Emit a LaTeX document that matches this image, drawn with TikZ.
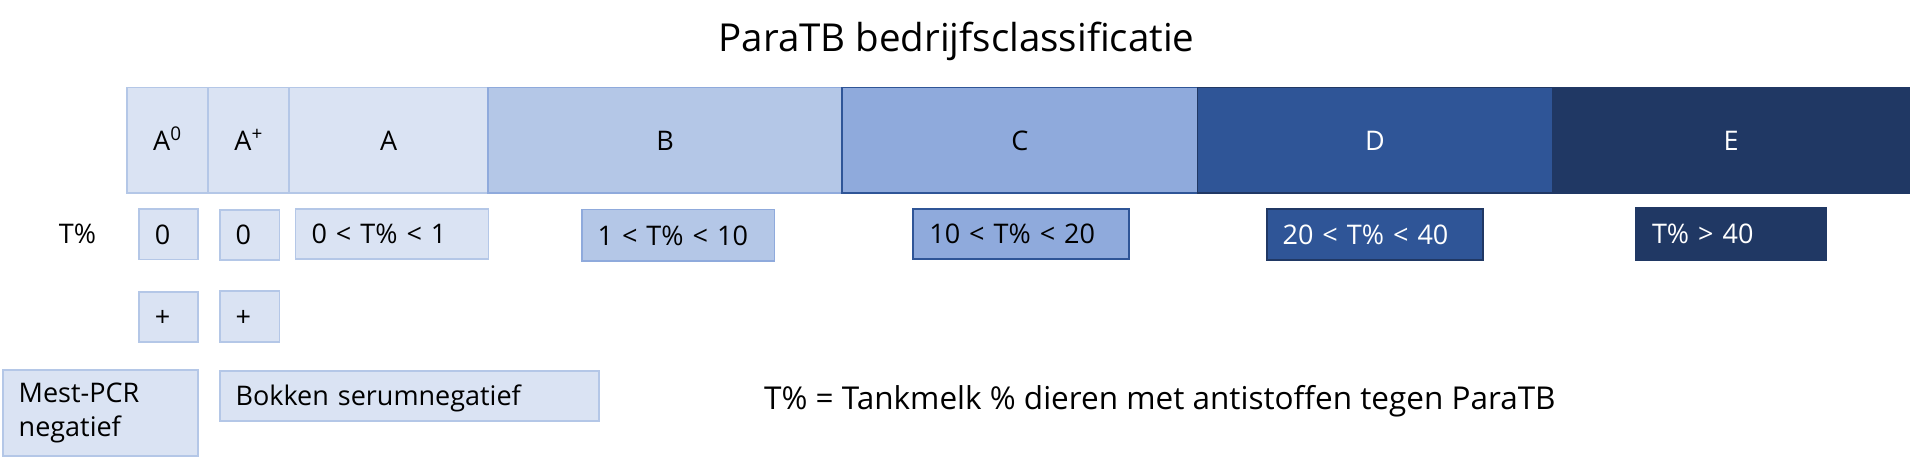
\documentclass[tikz,border=0pt]{standalone}
\usepackage{fontspec}
\setmainfont{Open Sans}
\definecolor{fA}{HTML}{DAE3F3}
\definecolor{fB}{HTML}{B4C7E7}
\definecolor{fC}{HTML}{8FAADC}
\definecolor{fD}{HTML}{2F5597}
\definecolor{fE}{HTML}{203864}
\begin{document}
\begin{tikzpicture}[x=1pt,y=-1pt,
  base/.style={inner sep=0pt, line width=1.8pt, font=\fontsize{27}{34}\selectfont},
  cell/.style={base, draw, minimum height=105.5pt, text height=19.5pt, text depth=0pt},
  tbox/.style={base, draw, inner xsep=16pt, align=left, text height=19.5pt, text depth=0pt},
  stA/.style={fill=fA, draw=fB},
  stB/.style={fill=fB, draw=fC},
  stC/.style={fill=fC, draw=fD},
  stD/.style={fill=fD, draw=fE, text=white},
  stE/.style={fill=fE, draw=fE, text=white}]
\useasboundingbox (0,0) rectangle (1910,464);

% title
\node[inner sep=0pt, anchor=base, font=\fontsize{38.5}{46}\selectfont] (title) at (956.5,51.7) {ParaTB bedrijfsclassificatie};

% top bar
\node[cell, stA, minimum width=81.2pt] (cA0) at (167.4,140.25) {A\textsuperscript{0}};
\node[cell, stA, minimum width=81.3pt] (cAp) at (248.65,140.25) {A\textsuperscript{+}};
\node[cell, stA, minimum width=198.7pt] (cA) at (388.65,140.25) {A};
\node[cell, stB, minimum width=354.3pt] (cB) at (665.15,140.25) {B};
\node[cell, stC, minimum width=355.1pt] (cC) at (1019.85,140.25) {C};
\node[cell, stD, minimum width=355pt] (cD) at (1374.9,140.25) {D};
\node[cell, stE, minimum width=357.6pt] (cE) at (1731.2,140.25) {E};

% T% row
\node[base, anchor=base west] (tlab) at (58,243.3) {T\%};
\node[tbox, stA, text width=27.4pt, minimum height=50.5pt] (r0a) at (168.5,234.25) {0};
\node[tbox, stA, text width=27.9pt, minimum height=50.3pt] (r0b) at (249.55,234.85) {0};
\node[tbox, stA, text width=160.9pt, minimum height=50.3pt] (rA) at (391.95,234.15) {0 < T\% < 1};
\node[tbox, stB, text width=160.9pt, minimum height=51.8pt] (rB) at (678.05,235.4) {1 < T\% < 10};
\node[tbox, stC, text width=183.3pt, minimum height=50.6pt] (rC) at (1020.95,234) {10 < T\% < 20};
\node[tbox, stD, text width=184.4pt, minimum height=51pt] (rD) at (1374.8,234.8) {20 < T\% < 40};
\node[tbox, stE, text width=158pt, minimum height=51.7pt] (rE) at (1731,233.85) {T\% > 40};

% plus row
\node[tbox, stA, text width=27.4pt, minimum height=50.6pt] (p1) at (168.5,317) {+};
\node[tbox, stA, text width=27.9pt, minimum height=51.6pt] (p2) at (249.55,316.5) {+};

% bottom row
\node[base, draw, stA, inner xsep=16pt, align=left, text width=163.5pt, minimum height=86pt] (mest) at (100.45,413) {Mest-PCR\\negatief};
\node[tbox, stA, text width=347.4pt, minimum height=49.7pt] (bok) at (409.3,395.85) {Bokken serumnegatief};

% footnote
\node[inner sep=0pt, anchor=base west, font=\fontsize{31.5}{38}\selectfont] (foot) at (764,409) {T\% = Tankmelk \% dieren met antistoffen tegen ParaTB};
\end{tikzpicture}
\end{document}
